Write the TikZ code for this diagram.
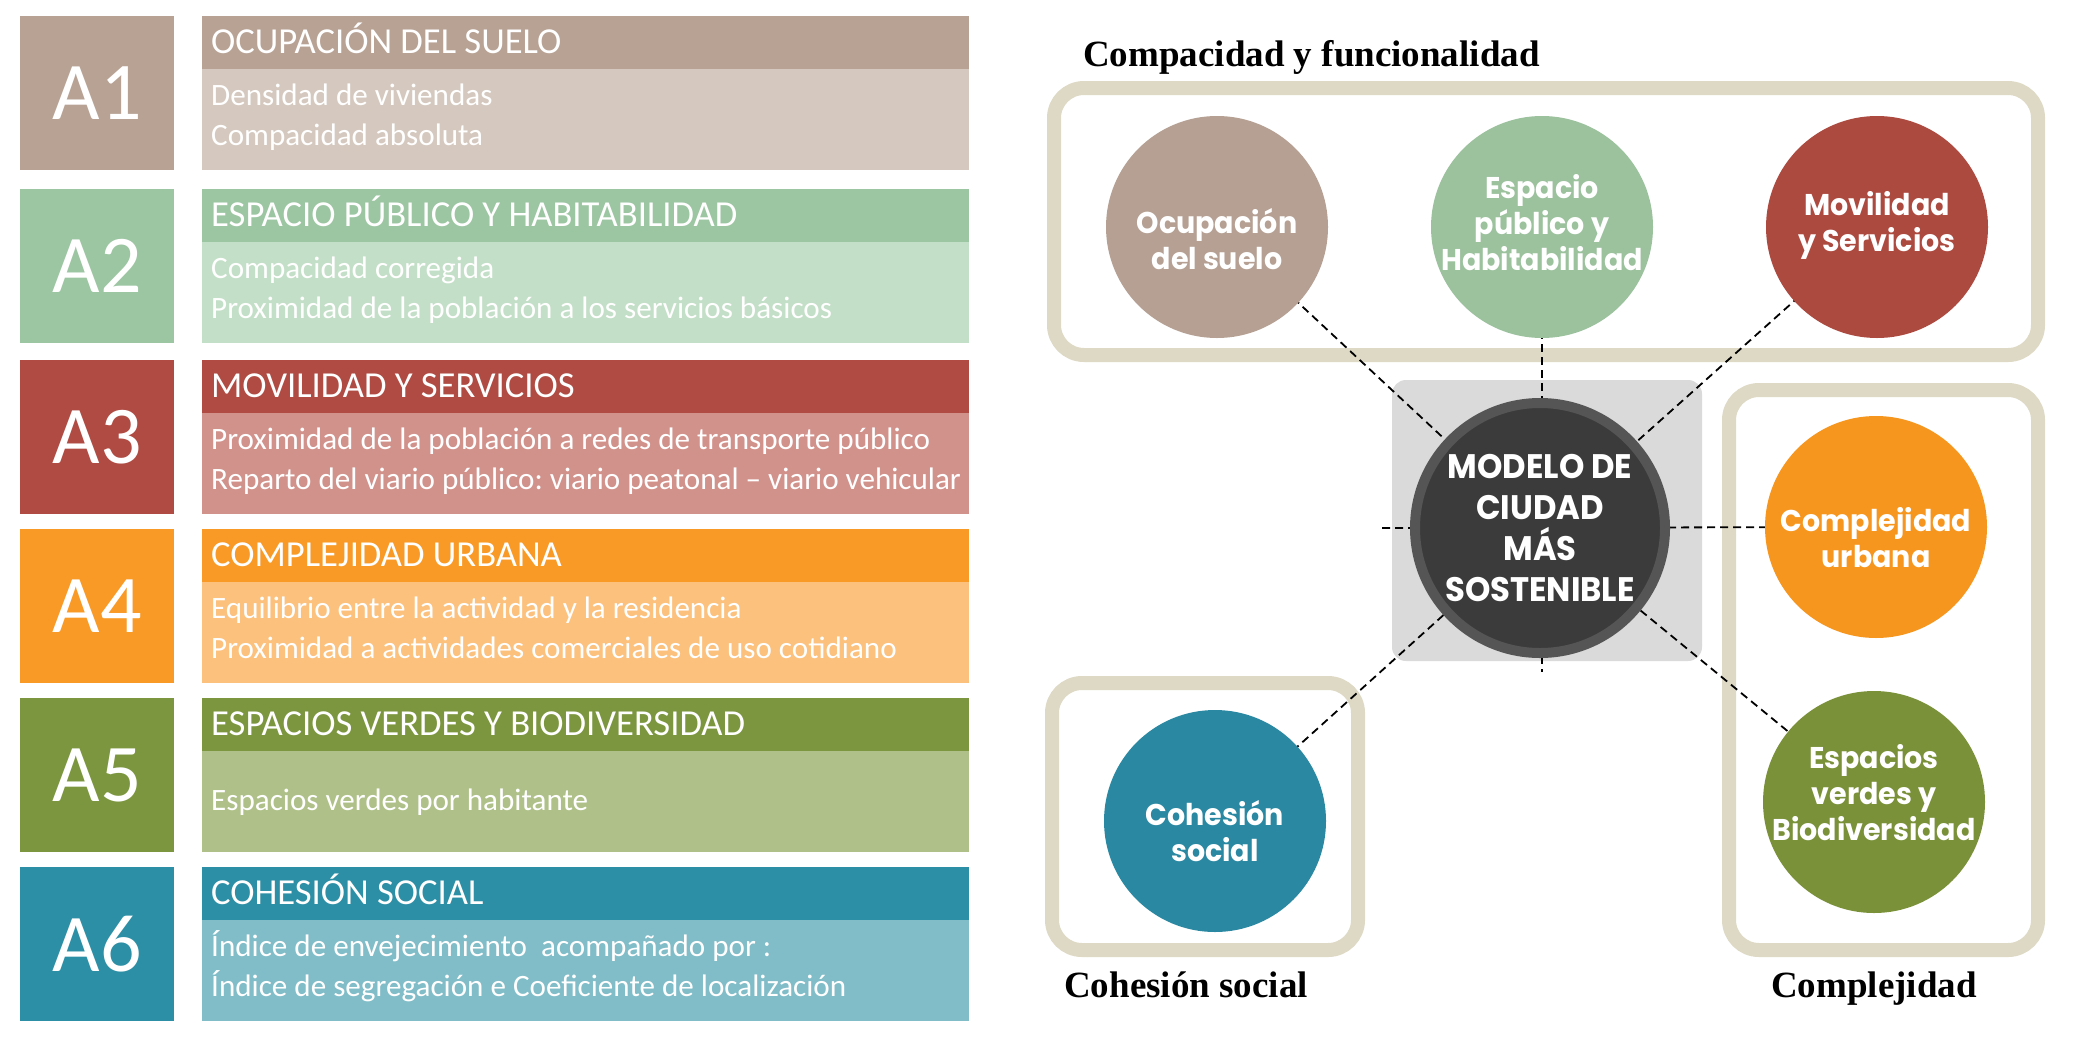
\documentclass[tikz,border=0pt]{standalone}
\usepackage{fontspec}
\setmainfont{Carlito}
\newfontfamily\circfont{Poppins}[FakeStretch=0.95]
\newfontfamily\labfont{Liberation Serif}
\definecolor{aAd}{HTML}{B8A294}\definecolor{aAl}{HTML}{D5C9BF}
\definecolor{aBd}{HTML}{9CC5A2}\definecolor{aBl}{HTML}{C4DFC8}
\definecolor{aCd}{HTML}{AF4B43}\definecolor{aCl}{HTML}{D2928C}
\definecolor{aDd}{HTML}{F89A25}\definecolor{aDl}{HTML}{FBC17D}
\definecolor{aEd}{HTML}{7C963F}\definecolor{aEl}{HTML}{AFC189}
\definecolor{aFd}{HTML}{2D8FA6}\definecolor{aFl}{HTML}{81BDC8}
\definecolor{cOc}{HTML}{B5A093}\definecolor{cEp}{HTML}{9BC19D}
\definecolor{cMv}{HTML}{AD4A40}\definecolor{cCu}{HTML}{F6961E}
\definecolor{cEv}{HTML}{7A9139}\definecolor{cCs}{HTML}{2A88A2}
\definecolor{frame}{HTML}{DDD9C4}\definecolor{sq}{HTML}{DADADA}
\definecolor{dark}{HTML}{3B3B3B}\definecolor{ring}{HTML}{555555}
\frenchspacing
\begin{document}
\begin{tikzpicture}[x=1pt,y=-1pt,
  abox/.style={anchor=north west,minimum width=154pt,minimum height=154pt,inner sep=0pt,text=white,font=\fontsize{82}{82}\selectfont},
  hbox/.style={anchor=north west,minimum width=767pt,minimum height=53pt,inner sep=0pt},
  bbox/.style={anchor=north west,minimum width=767pt,minimum height=101pt,inner sep=0pt},
  htext/.style={anchor=base west,inner sep=0pt,text=white,font=\fontsize{36.6}{36.6}\selectfont},
  btext/.style={anchor=base west,inner sep=0pt,text=white,font=\fontsize{31.1}{31.1}\selectfont},
  framebox/.style={draw=frame,line width=14pt,rounded corners=30pt},
  circ/.style={circle,minimum size=222pt,inner sep=0pt},
  ctext/.style={align=center,text=white,inner sep=0pt,font=\circfont\bfseries\fontsize{30}{36}\selectfont},
  lab/.style={anchor=base,inner sep=0pt,font=\labfont\bfseries\fontsize{37}{37}\selectfont},
  link/.style={draw=black,line width=1.8pt,dash pattern=on 8pt off 5pt}]
\useasboundingbox (0,0) rectangle (2076,1047);
\fill[white] (0,0) rectangle (2076,1047);
% ---------- left panel ----------
\node[abox,fill=aAd] (a1) at (20,16) {A1};
\node[hbox,fill=aAd] (h1) at (202,16) {};
\node[bbox,fill=aAl] (b1) at (202,69) {};
\node[htext] (h1t) at (211,53) {OCUPACIÓN DEL SUELO};
\node[btext] (b1t1) at (211,105) {Densidad de viviendas};
\node[btext] (b1t2) at (211,145) {Compacidad absoluta};
\node[abox,fill=aBd] (a2) at (20,189) {A2};
\node[hbox,fill=aBd] (h2) at (202,189) {};
\node[bbox,fill=aBl] (b2) at (202,242) {};
\node[htext] (h2t) at (211,226) {ESPACIO PÚBLICO Y HABITABILIDAD};
\node[btext] (b2t1) at (211,278) {Compacidad corregida};
\node[btext] (b2t2) at (211,318) {Proximidad de la población a los servicios básicos};
\node[abox,fill=aCd] (a3) at (20,360) {A3};
\node[hbox,fill=aCd] (h3) at (202,360) {};
\node[bbox,fill=aCl] (b3) at (202,413) {};
\node[htext] (h3t) at (211,397) {MOVILIDAD Y SERVICIOS};
\node[btext] (b3t1) at (211,449) {Proximidad de la población a redes de transporte público};
\node[btext] (b3t2) at (211,489) {Reparto del viario público: viario peatonal – viario vehicular};
\node[abox,fill=aDd] (a4) at (20,529) {A4};
\node[hbox,fill=aDd] (h4) at (202,529) {};
\node[bbox,fill=aDl] (b4) at (202,582) {};
\node[htext] (h4t) at (211,566) {COMPLEJIDAD URBANA};
\node[btext] (b4t1) at (211,618) {Equilibrio entre la actividad y la residencia};
\node[btext] (b4t2) at (211,658) {Proximidad a actividades comerciales de uso cotidiano};
\node[abox,fill=aEd] (a5) at (20,698) {A5};
\node[hbox,fill=aEd] (h5) at (202,698) {};
\node[bbox,fill=aEl] (b5) at (202,751) {};
\node[htext] (h5t) at (211,735) {ESPACIOS VERDES Y BIODIVERSIDAD};
\node[btext] (b5t1) at (211,810) {Espacios verdes por habitante};
\node[abox,fill=aFd] (a6) at (20,867) {A6};
\node[hbox,fill=aFd] (h6) at (202,867) {};
\node[bbox,fill=aFl] (b6) at (202,920) {};
\node[htext] (h6t) at (211,904) {COHESIÓN SOCIAL};
\node[btext] (b6t1) at (211,956) {Índice de envejecimiento\ \ acompañado por :};
\node[btext] (b6t2) at (211,996) {Índice de segregación e Coeficiente de localización};
% ---------- right panel ----------
\draw[framebox] (1054,88) rectangle (2038,355);
\draw[framebox] (1729,390) rectangle (2038,950);
\draw[framebox] (1052,683) rectangle (1358,950);
\fill[sq,rounded corners=14pt] (1392,380) rectangle (1702,661);
\node[lab,anchor=base west] (t1) at (1083,66) {Compacidad y funcionalidad};
\node[lab,anchor=base west] (t2) at (1064,997) {Cohesión social};
\node[lab] (t3) at (1874,997) {Complejidad};
% node positions
\coordinate (pc) at (1540,528);
\coordinate (poc) at (1217,227);
\coordinate (pep) at (1542,227);
\coordinate (pmv) at (1877,227);
\coordinate (pcu) at (1876,527);
\coordinate (pev) at (1874,802);
\coordinate (pcs) at (1215,821);
\coordinate (vb) at (1542,672);
\coordinate (hl) at (1382,528);
% links
\draw[link] (poc) -- (pc);
\draw[link] (pep) -- (vb);
\draw[link] (pmv) -- (pc);
\draw[link] (hl) -- (pcu);
\draw[link] (pc) -- (pev);
\draw[link] (pc) -- (pcs);
% circles
\node[circ,fill=cOc] (oc) at (poc) {};
\node[circ,fill=cEp] (ep) at (pep) {};
\node[circ,fill=cMv] (mv) at (pmv) {};
\node[circ,fill=cCu] (cu) at (pcu) {};
\node[circ,fill=cEv] (ev) at (pev) {};
\node[circ,fill=cCs] (cs) at (pcs) {};
\node[circle,minimum size=250pt,inner sep=0pt,fill=dark,draw=ring,line width=10pt] (mc) at (pc) {};
\node[ctext] (oct) at (1217,239) {Ocupación\\del suelo};
\node[ctext] (ept) at (1542,223) {Espacio\\público y\\Habitabilidad};
\node[ctext] (mvt) at (1877,225) {Movilidad\\y Servicios};
\node[ctext] (cut) at (1876,538) {Complejidad\\urbana};
\node[ctext] (evt) at (1874,793) {Espacios\\verdes y\\Biodiversidad};
\node[ctext] (cst) at (1215,831) {Cohesión\\social};
\node[ctext,font=\circfont\bfseries\fontsize{34}{41}\selectfont] (mct) at (pc) {MODELO DE\\CIUDAD\\MÁS\\SOSTENIBLE};
\end{tikzpicture}
\end{document}
